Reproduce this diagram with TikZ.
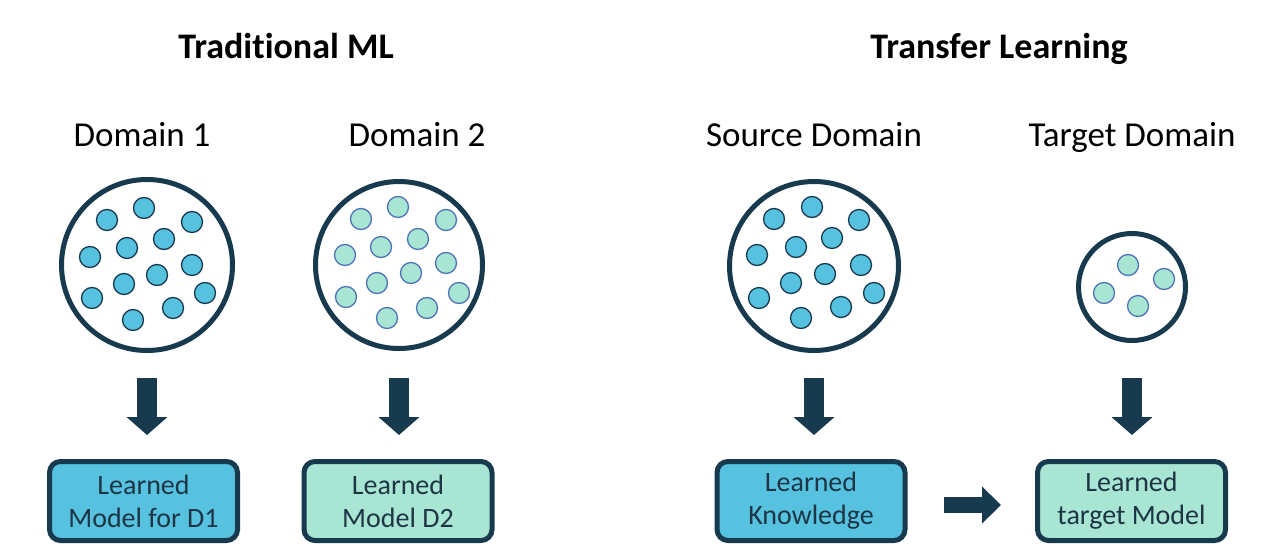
\documentclass[tikz,border=0pt]{standalone}
\usepackage{fontspec}
\setmainfont{Carlito}[Ligatures=NoCommon]
\usetikzlibrary{arrows.meta}
\definecolor{navy}{HTML}{173A4E}
\definecolor{bluefill}{HTML}{56C2E0}
\definecolor{greenfill}{HTML}{A8E6D3}
\definecolor{greenstroke}{HTML}{4F73B8}
\definecolor{boxtext}{HTML}{1D3545}
\tikzset{
  title/.style={anchor=base, font=\fontsize{36}{42}\selectfont\bfseries, text=black},
  dlabel/.style={anchor=base, font=\fontsize{35}{42}\selectfont, text=black},
  domcircle/.style={circle, draw=navy, line width=5pt, fill=white, inner sep=0pt},
  bdot/.style={circle, draw=navy, line width=1.3pt, fill=bluefill, minimum size=21pt, inner sep=0pt},
  gdot/.style={circle, draw=greenstroke, line width=1.3pt, fill=greenfill, minimum size=21pt, inner sep=0pt},
  modelbox/.style={rectangle, rounded corners=11pt, draw=navy, line width=5pt, minimum width=188pt, minimum height=79pt, align=center, text=boxtext, font=\fontsize{28}{33}\selectfont, inner sep=0pt},
  downarrow/.style={draw=navy, line width=20pt, -{Triangle[width=40pt,length=18pt]}},
  rightarrow/.style={draw=navy, line width=16pt, -{Triangle[width=36pt,length=19pt]}},
}
\begin{document}
\begin{tikzpicture}[x=1pt,y=-1pt]
\useasboundingbox (0,0) rectangle (1265,554);
\fill[white] (0,0) rectangle (1265,554);
% titles
\node[title] (t1) at (286,58) {Traditional ML};
\node[title] (t2) at (999,58) {Transfer Learning};
% domain labels
\node[dlabel] (l1) at (142,146) {Domain 1};
\node[dlabel] (l2) at (417,146) {Domain 2};
\node[dlabel] (l3) at (814,146) {Source Domain};
\node[dlabel] (l4) at (1132,146) {Target Domain};
% circles
\node[domcircle, minimum size=171pt] (c1) at (147,265) {};
\node[domcircle, minimum size=167pt] (c2) at (399,265) {};
\node[domcircle, minimum size=169pt] (c3) at (814,266) {};
\node[domcircle, minimum size=107pt] (c4) at (1132,287) {};
% dots circle 1
\foreach \x/\y [count=\i] in {144/208,107/220,192/222,164/239,127/248,90/257,192/265,157/275,124/284,92/298,205/293,173/308,133/320}
  \node[bdot] (d1-\i) at (\x,\y) {};
% dots circle 2
\foreach \x/\y [count=\i] in {398/207,361/219,446/220,418/239,381/247,345/255,446/263,411/273,377/283,346/297,459/293,427/308,387/318}
  \node[gdot] (d2-\i) at (\x,\y) {};
% dots circle 3
\foreach \x/\y [count=\i] in {812/207,774/219,859/220,832/238,796/247,757/255,861/265,825/274,791/283,759/298,874/293,841/307,801/318}
  \node[bdot] (d3-\i) at (\x,\y) {};
% dots circle 4
\foreach \x/\y [count=\i] in {1128/265,1164/279,1104/293,1138/306}
  \node[gdot] (d4-\i) at (\x,\y) {};
% boxes
\node[modelbox, fill=bluefill] (b1) at (143.5,501) {Learned\\Model for D1};
\node[modelbox, fill=greenfill] (b2) at (398,501) {Learned\\Model D2};
\node[modelbox, fill=bluefill] (b3) at (811,501) {Learned\\Knowledge};
\node[modelbox, fill=greenfill] (b4) at (1131.5,501) {Learned\\target Model};
% arrows
\coordinate (a1s) at (147,378); \coordinate (a1e) at (147,435);
\coordinate (a2s) at (399,378); \coordinate (a2e) at (399,435);
\coordinate (a3s) at (814,378); \coordinate (a3e) at (814,435);
\coordinate (a4s) at (1132,378); \coordinate (a4e) at (1132,435);
\draw[downarrow] (a1s) -- (a1e);
\draw[downarrow] (a2s) -- (a2e);
\draw[downarrow] (a3s) -- (a3e);
\draw[downarrow] (a4s) -- (a4e);
\coordinate (r1s) at (944,505); \coordinate (r1e) at (1001,505);
\draw[rightarrow] (r1s) -- (r1e);
\end{tikzpicture}
\end{document}
